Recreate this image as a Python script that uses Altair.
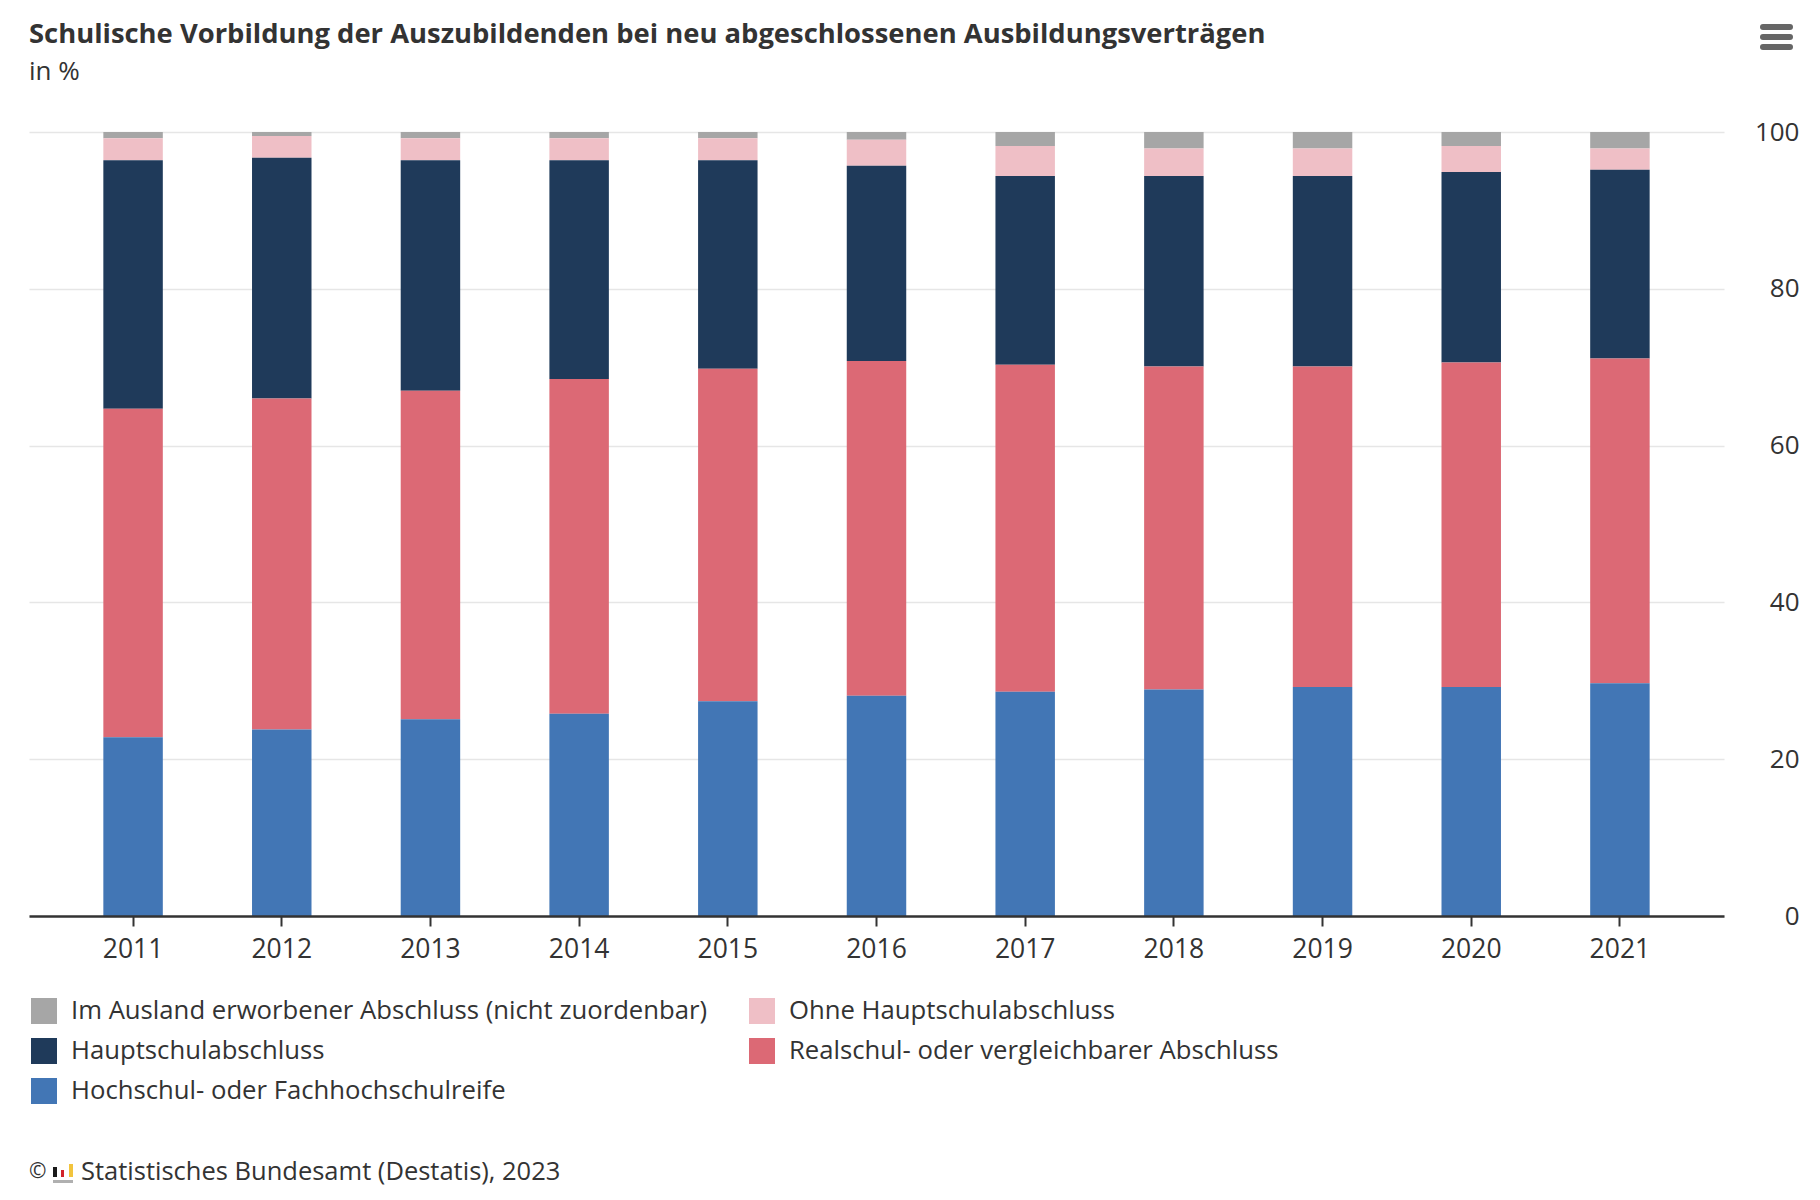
import altair as alt
import pandas as pd

years = ["2011", "2012", "2013", "2014", "2015", "2016", "2017", "2018", "2019", "2020", "2021"]

categories = [
    "Im Ausland erworbener Abschluss (nicht zuordenbar)",
    "Ohne Hauptschulabschluss",
    "Hauptschulabschluss",
    "Realschul- oder vergleichbarer Abschluss",
    "Hochschul- oder Fachhochschulreife",
]
colors = ["#a6a6a6", "#efbfc6", "#1f3a5a", "#dc6975", "#4276b5"]

ausland = [0.8, 0.5, 0.8, 0.8, 0.8, 1.0, 1.8, 2.1, 2.1, 1.8, 2.1]
ohne = [2.8, 2.8, 2.8, 2.8, 2.8, 3.3, 3.8, 3.5, 3.5, 3.3, 2.7]
hauptschul = [31.7, 30.7, 29.4, 27.9, 26.6, 24.9, 24.1, 24.3, 24.3, 24.3, 24.1]
realschul = [41.9, 42.2, 41.9, 42.7, 42.4, 42.7, 41.7, 41.2, 40.9, 41.4, 41.4]
hochschul = [22.8, 23.8, 25.1, 25.8, 27.4, 28.1, 28.6, 28.9, 29.2, 29.2, 29.7]

y_ticks = [0, 20, 40, 60, 80, 100]

title_text = "Schulische Vorbildung der Auszubildenden bei neu abgeschlossenen Ausbildungsverträgen"
subtitle_text = "in %"
source_text = "Statistisches Bundesamt (Destatis), 2023"

FONT = "Open Sans"
TXT = "#333333"

series = [ausland, ohne, hauptschul, realschul, hochschul]
rows = []
for ci, (cat, vals) in enumerate(zip(categories, series)):
    for y, v in zip(years, vals):
        rows.append({"Jahr": y, "Abschluss": cat, "Anteil": v, "rank": len(categories) - 1 - ci})
df = pd.DataFrame(rows)

# legend is filled column by column: reorder so it reads row by row like the reference
legend_order = [0, 2, 4, 1, 3]
leg_domain = [categories[i] for i in legend_order]
leg_range = [colors[i] for i in legend_order]

W, H = 1695, 784

bars = alt.Chart(df).mark_bar().encode(
    x=alt.X(
        "Jahr:N",
        sort=years,
        scale=alt.Scale(paddingInner=0.6, paddingOuter=0.5),
        axis=alt.Axis(
            title=None, labelAngle=0, labelFontSize=26.5, labelColor=TXT, labelFont=FONT,
            labelPadding=10, domainColor=TXT, domainWidth=2.5, tickColor=TXT, tickWidth=2,
            tickSize=10, grid=False, zindex=1,
        ),
    ),
    y=alt.Y(
        "Anteil:Q",
        stack="zero",
        scale=alt.Scale(domain=[0, 100], nice=False),
        axis=alt.Axis(
            title=None, orient="right", values=y_ticks, grid=True, gridColor="#e6e6e6",
            gridWidth=1.5, domain=False, ticks=False, labelAlign="right", labelPadding=75,
            labelFontSize=26, labelColor=TXT, labelFont=FONT, labelBaseline="middle",
        ),
    ),
    color=alt.Color(
        "Abschluss:N",
        scale=alt.Scale(domain=leg_domain, range=leg_range),
        sort=leg_domain,
        legend=alt.Legend(
            title=None, orient="none", legendX=2, legendY=866, columns=2,
            symbolType="square", symbolSize=676, symbolStrokeWidth=0, symbolOpacity=1,
            labelFontSize=25.7, labelFont=FONT, labelColor=TXT, labelOffset=14,
            rowPadding=14, columnPadding=41, labelLimit=1000,
        ),
    ),
    order=alt.Order("rank:Q", sort="ascending"),
)

one = pd.DataFrame({"a": [0]})

title_mark = alt.Chart(one).mark_text(
    text=title_text, align="left", baseline="alphabetic", fontSize=27.4,
    fontWeight="bold", font=FONT, color=TXT
).encode(x=alt.value(0), y=alt.value(-89))

subtitle_mark = alt.Chart(one).mark_text(
    text=subtitle_text, align="left", baseline="alphabetic", fontSize=26,
    font=FONT, color=TXT
).encode(x=alt.value(0), y=alt.value(-52))

copy_sign = alt.Chart(one).mark_text(
    text="©", align="left", baseline="middle", fontSize=21, font=FONT, color=TXT
).encode(x=alt.value(0), y=alt.value(1040))

source = alt.Chart(one).mark_text(
    text=source_text, align="left", baseline="middle", fontSize=25.5, font=FONT, color=TXT
).encode(x=alt.value(52), y=alt.value(1040))

icon_black = alt.Chart(one).mark_rect(color="#1a1a1a").encode(
    x=alt.value(24), x2=alt.value(28), y=alt.value(1035), y2=alt.value(1045))
icon_red = alt.Chart(one).mark_rect(color="#d2232a").encode(
    x=alt.value(32), x2=alt.value(35), y=alt.value(1038), y2=alt.value(1045))
icon_yellow = alt.Chart(one).mark_rect(color="#f2c43d").encode(
    x=alt.value(40), x2=alt.value(44), y=alt.value(1032), y2=alt.value(1045))
icon_base = alt.Chart(one).mark_rect(color="#b0b0b0").encode(
    x=alt.value(24), x2=alt.value(44), y=alt.value(1048), y2=alt.value(1051))

menu = [
    alt.Chart(one).mark_rule(color="#666666", strokeWidth=6, strokeCap="round").encode(
        x=alt.value(1734), x2=alt.value(1761), y=alt.value(yy))
    for yy in (-105, -95, -85)
]

chart = alt.layer(
    bars, title_mark, subtitle_mark, copy_sign, source,
    icon_black, icon_red, icon_yellow, icon_base, *menu
).properties(
    width=W,
    height=H,
    autosize=alt.AutoSizeParams(type="none"),
    padding={"left": 21, "top": 124, "right": 88, "bottom": 276},
).configure_view(stroke=None)

chart.save("out.html", embed_options={"renderer": "svg", "actions": False})
